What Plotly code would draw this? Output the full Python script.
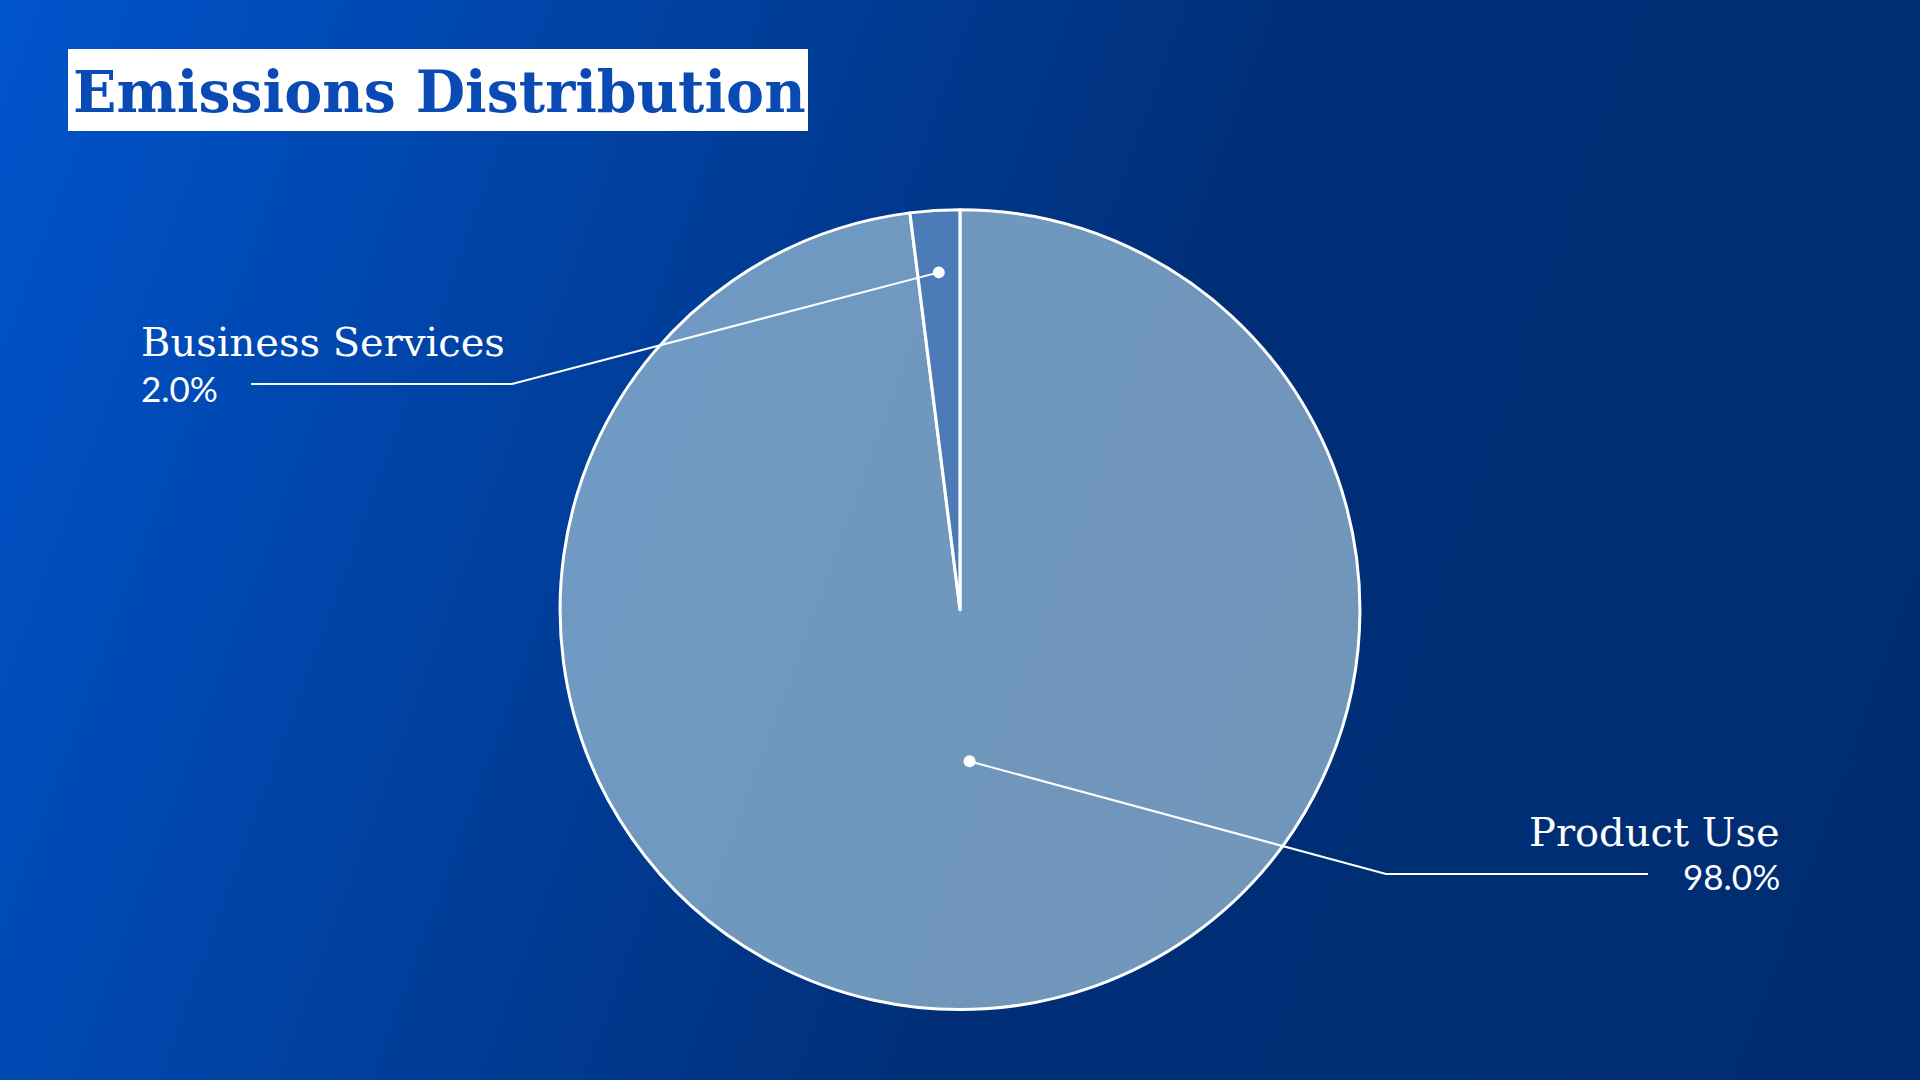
import base64
import math

import plotly.graph_objects as go

# Data
labels = ["Product Use", "Business Services"]
values = [98.0, 2.0]
pct_text = ["98.0%", "2.0%"]
slice_colors = ["rgba(150,185,210,0.75)", "rgba(101,147,199,0.75)"]

W, H = 1920, 1080
PIE_X = [0.2917, 0.7083]
PIE_Y = [0.065, 0.806]


def px(x):
    return x / W


def py(y):
    return 1 - y / H


# Background gradient as an inline svg image
svg = (
    "<svg xmlns='http://www.w3.org/2000/svg' width='1920' height='1080'>"
    "<defs><linearGradient id='g' gradientUnits='userSpaceOnUse' "
    "x1='0' y1='0' x2='1920' y2='700'>"
    "<stop offset='0' stop-color='#0054cc'/>"
    "<stop offset='0.6' stop-color='#002f78'/>"
    "<stop offset='1' stop-color='#002d72'/>"
    "</linearGradient></defs>"
    "<rect width='1920' height='1080' fill='url(#g)'/></svg>"
)
bg_src = "data:image/svg+xml;base64," + base64.b64encode(svg.encode()).decode()

fig = go.Figure()
fig.add_trace(
    go.Pie(
        labels=labels,
        values=values,
        sort=False,
        direction="clockwise",
        rotation=0,
        marker=dict(colors=slice_colors, line=dict(color="white", width=3)),
        textinfo="none",
        hoverinfo="label+percent",
        showlegend=False,
        domain=dict(x=PIE_X, y=PIE_Y),
    )
)

# pie geometry in pixels (margins are zero)
cx = (PIE_X[0] + PIE_X[1]) / 2 * W
cy = (1 - (PIE_Y[0] + PIE_Y[1]) / 2) * H
radius = min((PIE_X[1] - PIE_X[0]) * W, (PIE_Y[1] - PIE_Y[0]) * H) / 2

# callout layout: dot radius fraction, elbow point, line end, text side
callouts = {
    "Product Use": dict(rf=0.38, elbow=(1386, 874), end=1648,
                        tx=1782, anchor="right", name_y=832, pct_y=876),
    "Business Services": dict(rf=0.845, elbow=(512, 384), end=251,
                              tx=139, anchor="left", name_y=342, pct_y=388),
}

shapes = [
    # title box
    dict(type="rect", xref="paper", yref="paper",
         x0=px(68), x1=px(808), y0=py(131), y1=py(49),
         fillcolor="white", line=dict(width=0), layer="above"),
]
annotations = [
    dict(text="<b>Emissions Distribution</b>", xref="paper", yref="paper",
         x=px(71), y=py(92), xanchor="left", yanchor="middle", showarrow=False,
         font=dict(family="DejaVu Serif", size=57, color="#0a4ab4")),
]

total = sum(values)
cum = 0.0
for lab, val, pct in zip(labels, values, pct_text):
    mid = (cum + val / 2) / total * 2 * math.pi
    cum += val
    c = callouts[lab]
    dx = cx + radius * c["rf"] * math.sin(mid)
    dy = cy - radius * c["rf"] * math.cos(mid)
    ex, ey = c["elbow"]
    shapes.append(dict(
        type="path", xref="paper", yref="paper",
        path=f"M {px(dx)},{py(dy)} L {px(ex)},{py(ey)} L {px(c['end'])},{py(ey)}",
        line=dict(color="white", width=2),
    ))
    shapes.append(dict(
        type="circle", xref="paper", yref="paper",
        xsizemode="pixel", ysizemode="pixel",
        xanchor=px(dx), yanchor=py(dy), x0=-6, x1=6, y0=-6, y1=6,
        fillcolor="white", line=dict(width=0),
    ))
    annotations.append(dict(
        text=lab, xref="paper", yref="paper", x=px(c["tx"]), y=py(c["name_y"]),
        xanchor=c["anchor"], yanchor="middle", showarrow=False,
        font=dict(family="DejaVu Serif", size=40, color="white"),
    ))
    annotations.append(dict(
        text=pct, xref="paper", yref="paper", x=px(c["tx"]), y=py(c["pct_y"]),
        xanchor=c["anchor"], yanchor="middle", showarrow=False,
        font=dict(family="Lato", size=35, color="white"),
    ))

fig.update_layout(
    width=W,
    height=H,
    margin=dict(l=0, r=0, t=0, b=0),
    paper_bgcolor="#003a96",
    images=[dict(source=bg_src, xref="paper", yref="paper", x=0, y=1,
                 sizex=1, sizey=1, sizing="stretch", xanchor="left",
                 yanchor="top", layer="below")],
    shapes=shapes,
    annotations=annotations,
)

# drop the default page margin so the chart fills the window
fig.write_html(
    "out.html",
    config={"displayModeBar": False},
    post_script="document.body.style.margin='0';",
)
